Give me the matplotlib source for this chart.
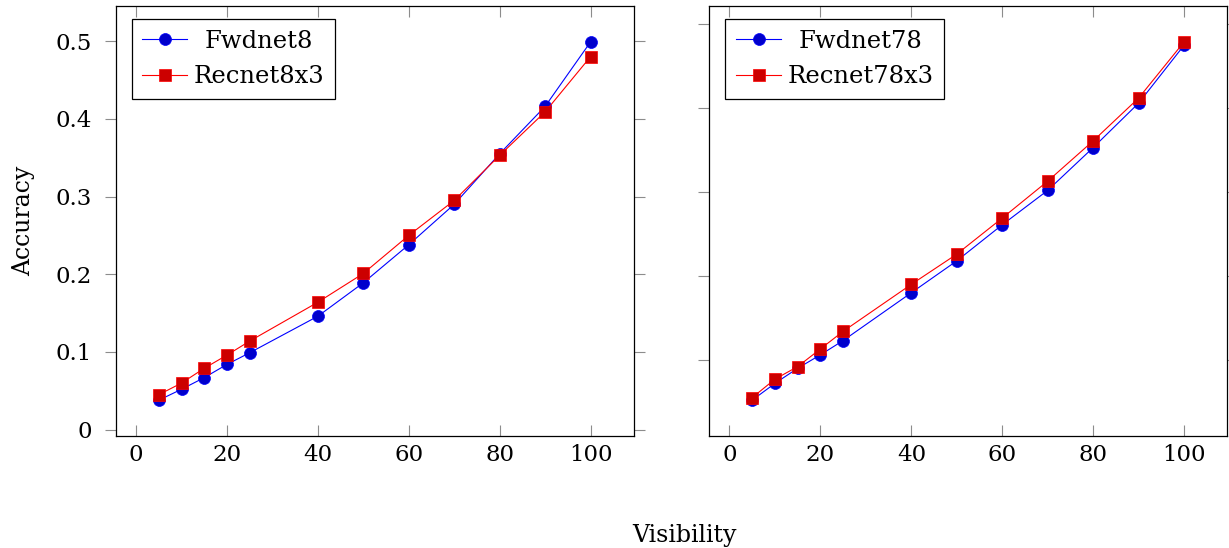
import matplotlib
matplotlib.use("Agg")
import matplotlib.pyplot as plt
from matplotlib.ticker import MultipleLocator, FuncFormatter

# Accuracy vs. visibility (%) for the two network pairs
visibility = [5, 10, 15, 20, 25, 40, 50, 60, 70, 80, 90, 100]

fwdnet8 = [0.038, 0.052, 0.067, 0.084, 0.099, 0.146, 0.189, 0.238, 0.290, 0.355, 0.416, 0.499]
recnet8x3 = [0.045, 0.060, 0.079, 0.096, 0.114, 0.164, 0.201, 0.250, 0.295, 0.353, 0.409, 0.480]

fwdnet78 = [0.052, 0.072, 0.090, 0.106, 0.123, 0.180, 0.218, 0.261, 0.302, 0.353, 0.406, 0.475]
recnet78x3 = [0.055, 0.077, 0.092, 0.113, 0.134, 0.190, 0.226, 0.269, 0.313, 0.361, 0.412, 0.479]

labels_left = ["Fwdnet8", "Recnet8x3"]
labels_right = ["Fwdnet78", "Recnet78x3"]

plt.rcParams['font.family'] = ['DejaVu Serif']

W, H = 1229, 548
fig = plt.figure(figsize=(W / 100, H / 100), dpi=100)
ax1 = fig.add_axes([115.6 / W, 112 / H, 518.2 / W, 430 / H])
ax2 = fig.add_axes([709.0 / W, 112 / H, 518.3 / W, 430 / H])

BLUE_LINE, BLUE_FILL = '#0000ff', '#0000cc'
RED_LINE, RED_FILL = '#ff0000', '#cc0000'
TICK_GREY = '#8c8c8c'


def fmt_y(v, _):
    return '0' if abs(v) < 1e-9 else f'{v:.1f}'


def draw(ax, y_fwd, y_rec, labels, labelleft, anchor_x):
    ax.plot(visibility, y_fwd, color=BLUE_LINE, lw=0.8, marker='o', ms=8.6,
            mfc=BLUE_FILL, mec=BLUE_LINE, mew=0.5, label=labels[0], zorder=3)
    ax.plot(visibility, y_rec, color=RED_LINE, lw=0.8, marker='s', ms=8.0,
            mfc=RED_FILL, mec=RED_LINE, mew=0.5, label=labels[1], zorder=4)
    ax.margins(0.1)
    ax.xaxis.set_major_locator(MultipleLocator(20))
    ax.yaxis.set_major_locator(MultipleLocator(0.1))
    ax.yaxis.set_major_formatter(FuncFormatter(fmt_y))
    ax.tick_params(axis='x', direction='in', top=True, bottom=True, length=7.7,
                   width=0.8, color=TICK_GREY, labelsize=16.5, pad=5.5)
    ax.tick_params(axis='y', direction='out', left=True, right=True, length=8,
                   width=0.8, color=TICK_GREY, labelsize=16.5, pad=9,
                   labelleft=labelleft)
    for s in ax.spines.values():
        s.set_linewidth(0.9)
        s.set_color('black')
    leg = ax.legend(loc='upper left', bbox_to_anchor=(anchor_x, 0.9691),
                    borderaxespad=0, fontsize=17.5, frameon=True, fancybox=False,
                    edgecolor='black', framealpha=1, borderpad=0.44,
                    labelspacing=0.5, handlelength=1.85, handletextpad=0.26)
    leg.get_frame().set_linewidth(0.9)
    return leg


legends = [
    draw(ax1, fwdnet8, recnet8x3, labels_left, True, 0.0311),
    draw(ax2, fwdnet78, recnet78x3, labels_right, False, 0.0316),
]

fig.text(23.3 / W, 1 - 221 / H, 'Accuracy', rotation=90, fontsize=17,
         ha='center', va='center')
fig.text(685 / W, 6.3 / H, 'Visibility', fontsize=17, ha='center', va='baseline')

# centre each legend label within its column
fig.canvas.draw()
renderer = fig.canvas.get_renderer()
for leg in legends:
    texts = leg.get_texts()
    widths = [t.get_window_extent(renderer).width for t in texts]
    wmax = max(widths)
    base = leg.handletextpad * leg._fontsize
    rows = [row for col in leg._legend_handle_box.get_children()
            for row in col.get_children()]
    for row, w in zip(rows, widths):
        row.sep = base + (wmax - w) / 2 * 72 / fig.dpi

fig.savefig('out.png', dpi=100)
